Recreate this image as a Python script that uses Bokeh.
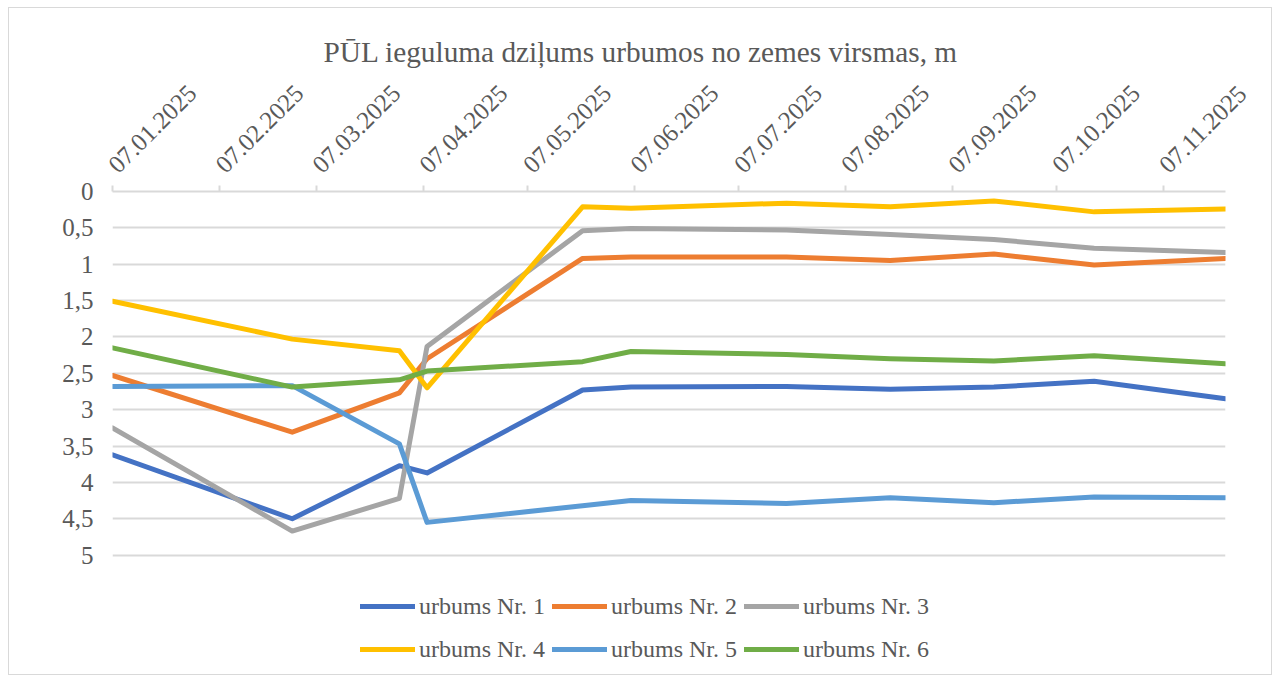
import pandas as pd
from bokeh.plotting import figure
from bokeh.models import (Range1d, FixedTicker, DatetimeTickFormatter, Legend, LegendItem,
                          DatetimeAxis)
from bokeh.embed import file_html
from bokeh.resources import INLINE
from math import pi

# ---- data ----
dates = ["2025-01-07", "2025-02-28", "2025-03-31", "2025-04-08", "2025-05-23", "2025-06-06",
         "2025-07-21", "2025-08-20", "2025-09-19", "2025-10-18", "2025-11-25"]
urbums_1 = [3.62, 4.50, 3.77, 3.87, 2.73, 2.69, 2.68, 2.72, 2.69, 2.61, 2.85]
urbums_2 = [2.53, 3.31, 2.77, 2.30, 0.92, 0.90, 0.90, 0.95, 0.86, 1.01, 0.92]
urbums_3 = [3.25, 4.67, 4.22, 2.13, 0.54, 0.51, 0.53, 0.59, 0.66, 0.78, 0.84]
urbums_4 = [1.51, 2.03, 2.19, 2.70, 0.21, 0.23, 0.16, 0.21, 0.13, 0.28, 0.24]
urbums_5 = [2.68, 2.67, 3.47, 4.55, 4.32, 4.25, 4.29, 4.21, 4.28, 4.20, 4.21]
urbums_6 = [2.15, 2.69, 2.59, 2.47, 2.34, 2.20, 2.24, 2.30, 2.33, 2.26, 2.37]
series_names = ["urbums Nr. 1", "urbums Nr. 2", "urbums Nr. 3",
                "urbums Nr. 4", "urbums Nr. 5", "urbums Nr. 6"]
tick_dates = ["2025-01-07", "2025-02-07", "2025-03-07", "2025-04-07", "2025-05-07", "2025-06-07",
              "2025-07-07", "2025-08-07", "2025-09-07", "2025-10-07", "2025-11-07"]
y_ticks = [0, 0.5, 1, 1.5, 2, 2.5, 3, 3.5, 4, 4.5, 5]
title_text = "PŪL ieguluma dziļums urbumos no zemes virsmas, m"

colors = ["#4472C4", "#ED7D31", "#A5A5A5", "#FFC000", "#5B9BD5", "#70AD47"]
FONT = "Liberation Serif"
GRAY = "#595959"

x = pd.to_datetime(dates)
series = [urbums_1, urbums_2, urbums_3, urbums_4, urbums_5, urbums_6]

# layout (pixels)
W, H = 1264, 668
MB_L, MB_R, MB_T, MB_B = 103, 48, 183, 1
frame_h = H - MB_T - MB_B
px_per_unit = 72.72
y_bottom = frame_h / px_per_unit   # frame extends below 5 so the legend can sit inside it

p = figure(width=W, height=H, output_backend="svg", toolbar_location=None,
           x_axis_type=None,
           x_range=Range1d(pd.Timestamp(dates[0]), pd.Timestamp(dates[-1])),
           y_range=Range1d(y_bottom, 0),
           min_border_left=MB_L, min_border_right=MB_R, min_border_top=MB_T, min_border_bottom=MB_B,
           styles={"border": "1px solid #d9d9d9", "margin-left": "8px", "margin-top": "7px"})

p.title.text = title_text
p.title.align = "left"
p.title.offset = 211
p.title.text_font = FONT
p.title.text_font_size = "29.3px"
p.title.text_font_style = "normal"
p.title.text_color = GRAY
p.title.standoff = 11

xaxis = DatetimeAxis()
xaxis.ticker = FixedTicker(ticks=[pd.Timestamp(d).value // 10**6 for d in tick_dates])
fmt = "%d.%m.%Y"
xaxis.formatter = DatetimeTickFormatter(microseconds=fmt, milliseconds=fmt, seconds=fmt,
                                        minsec=fmt, minutes=fmt, hourmin=fmt, hours=fmt,
                                        days=fmt, months=fmt, years=fmt)
xaxis.major_label_orientation = pi / 4
xaxis.major_label_text_font = FONT
xaxis.major_label_text_font_size = "25px"
xaxis.major_label_text_color = GRAY
xaxis.major_label_standoff = 17
xaxis.axis_line_color = "#d9d9d9"
xaxis.axis_line_width = 2
xaxis.major_tick_line_color = "#d9d9d9"
xaxis.major_tick_line_width = 2
xaxis.major_tick_in = 0
xaxis.major_tick_out = 6
xaxis.minor_tick_line_color = None
p.add_layout(xaxis, "above")

p.yaxis.ticker = FixedTicker(ticks=y_ticks)
p.yaxis.major_label_overrides = {t: (str(t).replace(".", ",") if t % 1 else str(int(t))) for t in y_ticks}
p.yaxis.major_label_text_font = FONT
p.yaxis.major_label_text_font_size = "25px"
p.yaxis.major_label_text_color = GRAY
p.yaxis.axis_line_color = None
p.yaxis.major_tick_line_color = None
p.yaxis.minor_tick_line_color = None
p.yaxis.major_label_standoff = 13

p.xgrid.grid_line_color = None
p.ygrid.ticker = FixedTicker(ticks=y_ticks)
p.ygrid.grid_line_color = "#d9d9d9"
p.ygrid.grid_line_width = 2
p.outline_line_color = None

items = []
for name, vals, c in zip(series_names, series, colors):
    r = p.line(x, vals, line_color=c, line_width=5, line_join="round", line_cap="round")
    items.append(LegendItem(label=name, renderers=[r]))

legend = Legend(items=items, orientation="horizontal", ncols=3,
                location=(248, 8), margin=0, padding=0, spacing=7,
                glyph_width=55, glyph_height=36, label_height=36, label_standoff=4,
                label_text_font=FONT, label_text_font_size="24px", label_text_color=GRAY,
                background_fill_alpha=0, border_line_color=None)
p.add_layout(legend, "center")

open("out.html", "w").write(file_html(p, INLINE))
